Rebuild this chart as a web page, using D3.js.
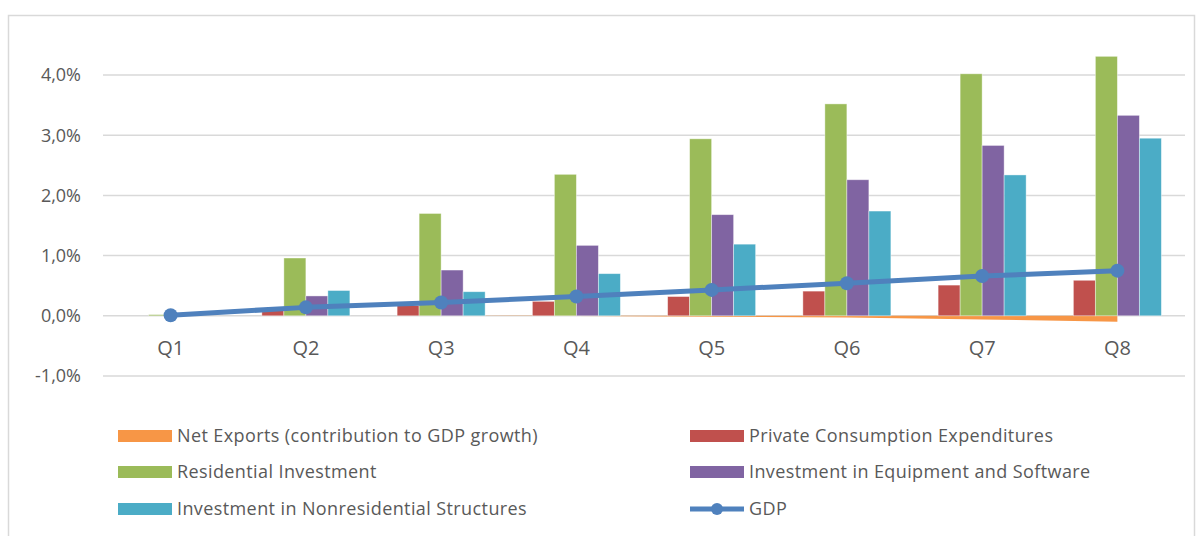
<!DOCTYPE html>
<html>
<head>
<meta charset="utf-8">
<script src="https://cdn.jsdelivr.net/npm/d3@7"></script>
<style>
  html, body { margin: 0; padding: 0; background: #fff; }
  svg { display: block; font-family: "Open Sans", "DejaVu Sans", sans-serif; }
</style>
</head>
<body>
<svg id="chart" width="1203" height="536"></svg>
<script>
// Quarters on the category axis
const categories = ["Q1", "Q2", "Q3", "Q4", "Q5", "Q6", "Q7", "Q8"];

// Cumulative contributions, in percent
const netExports = [0, 0, 0, -0.005, -0.015, -0.03, -0.06, -0.1];
const privateConsumption = [0, 0.09, 0.17, 0.24, 0.32, 0.41, 0.51, 0.59];
const residentialInvestment = [0.02, 0.96, 1.70, 2.35, 2.94, 3.52, 4.02, 4.31];
const equipmentSoftware = [0, 0.33, 0.76, 1.17, 1.68, 2.26, 2.83, 3.33];
const nonresidentialStructures = [0, 0.42, 0.40, 0.70, 1.19, 1.74, 2.34, 2.95];
const gdp = [0.01, 0.14, 0.22, 0.32, 0.43, 0.54, 0.66, 0.75];

// Value-axis ticks
const yTicks = [-1, 0, 1, 2, 3, 4];

const barSeries = [
  { name: "Private Consumption Expenditures", values: privateConsumption, color: "#C0504D" },
  { name: "Residential Investment", values: residentialInvestment, color: "#9BBB59" },
  { name: "Investment in Equipment and Software", values: equipmentSoftware, color: "#8064A2" },
  { name: "Investment in Nonresidential Structures", values: nonresidentialStructures, color: "#4BACC6" }
];

const svg = d3.select("#chart");

// Outer chart frame
svg.append("rect")
  .attr("x", 8.5).attr("y", 15.5)
  .attr("width", 1186).attr("height", 540)
  .attr("fill", "#fff").attr("stroke", "#d9d9d9").attr("stroke-width", 1.5);

const plotLeft = 103, plotRight = 1185;
const x = d3.scaleBand().domain(categories).range([plotLeft, plotRight]).padding(0);
const y = d3.scaleLinear().domain([-1, 4]).range([376, 75]);

// Gridlines
svg.append("g").selectAll("line").data(yTicks).join("line")
  .attr("x1", plotLeft).attr("x2", plotRight)
  .attr("y1", d => y(d)).attr("y2", d => y(d))
  .attr("stroke", "#d9d9d9").attr("stroke-width", 1.5);

// Value-axis labels
const fmt = v => d3.format(".1f")(v).replace(".", ",").replace("−", "-") + "%";
svg.append("g").selectAll("text").data(yTicks).join("text")
  .attr("x", 81).attr("y", d => y(d))
  .attr("dy", "0.36em")
  .attr("text-anchor", "end")
  .attr("font-size", 18)
  .attr("fill", "#595959")
  .text(fmt);

// Category labels
svg.append("g").selectAll("text").data(categories).join("text")
  .attr("x", d => x(d) + x.bandwidth() / 2)
  .attr("y", 355)
  .attr("text-anchor", "middle")
  .attr("font-size", 20)
  .attr("fill", "#595959")
  .text(d => d);

const cx = (d, i) => x(categories[i]) + x.bandwidth() / 2;

// Net exports as an area below zero
const area = d3.area()
  .x((d, i) => cx(d, i))
  .y0(y(0))
  .y1(d => y(d));
svg.append("path")
  .datum(netExports)
  .attr("d", area)
  .attr("fill", "#F79646");

// Clustered bars
const groupWidth = 88;
const x1 = d3.scaleBand().domain(barSeries.map(s => s.name)).range([0, groupWidth]).padding(0);
const barG = svg.append("g");
barSeries.forEach(s => {
  barG.append("g").selectAll("rect").data(s.values).join("rect")
    .attr("x", (d, i) => cx(d, i) - groupWidth / 2 + x1(s.name))
    .attr("width", x1.bandwidth())
    .attr("y", d => y(Math.max(0, d)))
    .attr("height", d => Math.abs(y(d) - y(0)))
    .attr("fill", s.color)
    .attr("stroke", "#ffffff")
    .attr("stroke-opacity", 0.5)
    .attr("stroke-width", 0.8);
});

// GDP line with markers
const line = d3.line().x((d, i) => cx(d, i)).y(d => y(d));
svg.append("path")
  .datum(gdp)
  .attr("d", line)
  .attr("fill", "none")
  .attr("stroke", "#4F81BD")
  .attr("stroke-width", 5)
  .attr("stroke-linejoin", "round");
svg.append("g").selectAll("circle").data(gdp).join("circle")
  .attr("cx", (d, i) => cx(d, i))
  .attr("cy", d => y(d))
  .attr("r", 7)
  .attr("fill", "#4F81BD");

// Legend
const legendItems = [
  { name: "Net Exports (contribution to GDP growth)", color: "#F79646", type: "box" },
  { name: "Private Consumption Expenditures", color: "#C0504D", type: "box" },
  { name: "Residential Investment", color: "#9BBB59", type: "box" },
  { name: "Investment in Equipment and Software", color: "#8064A2", type: "box" },
  { name: "Investment in Nonresidential Structures", color: "#4BACC6", type: "box" },
  { name: "GDP", color: "#4F81BD", type: "line" }
];
const colX = [118, 690];
const rowY = [436, 472, 509];
const lg = svg.append("g");
legendItems.forEach((item, i) => {
  const gx = colX[i % 2], gy = rowY[Math.floor(i / 2)];
  const g = lg.append("g").attr("transform", `translate(${gx},${gy})`);
  if (item.type === "box") {
    g.append("rect").attr("x", 0).attr("y", -6).attr("width", 54).attr("height", 12).attr("fill", item.color);
  } else {
    g.append("line").attr("x1", 0).attr("x2", 54).attr("y1", 0).attr("y2", 0)
      .attr("stroke", item.color).attr("stroke-width", 5);
    g.append("circle").attr("cx", 27).attr("cy", 0).attr("r", 6).attr("fill", item.color);
  }
  g.append("text")
    .attr("x", 59).attr("y", 0).attr("dy", "0.35em")
    .attr("font-size", 18)
    .attr("letter-spacing", "0.4px")
    .attr("fill", "#595959")
    .text(item.name);
});
</script>
</body>
</html>
